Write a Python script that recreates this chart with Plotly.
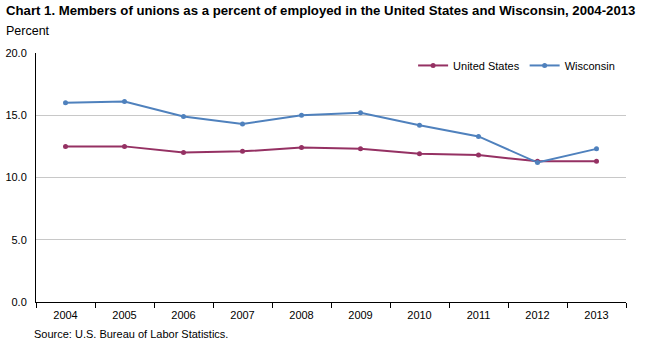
import plotly.graph_objects as go

years = ["2004", "2005", "2006", "2007", "2008", "2009", "2010", "2011", "2012", "2013"]
united_states = [12.5, 12.5, 12.0, 12.1, 12.4, 12.3, 11.9, 11.8, 11.3, 11.3]
wisconsin = [16.0, 16.1, 14.9, 14.3, 15.0, 15.2, 14.2, 13.3, 11.2, 12.3]
y_ticks = [0, 5, 10, 15, 20]

FONT = "Liberation Sans, Arial, sans-serif"

fig = go.Figure()
fig.add_trace(go.Scatter(x=years, y=united_states, name="United States", mode="lines+markers",
                         line=dict(color="#953163", width=2), marker=dict(size=5, color="#953163")))
fig.add_trace(go.Scatter(x=years, y=wisconsin, name="Wisconsin", mode="lines+markers",
                         line=dict(color="#4F81BD", width=2), marker=dict(size=5, color="#4F81BD")))

fig.update_layout(
    width=650, height=352,
    margin=dict(l=36, r=24, t=53, b=50),
    paper_bgcolor="white", plot_bgcolor="white",
    showlegend=True,
    legend=dict(orientation="h", x=0.99, xanchor="right", y=0.95, yanchor="middle",
                font=dict(family=FONT, size=11, color="black"), itemwidth=30,
                bgcolor="rgba(0,0,0,0)"),
    annotations=[
        dict(text="<b>Chart 1. Members of unions as a percent of employed in the United States and Wisconsin, 2004-2013</b>",
             xref="paper", yref="paper", x=-32/590, y=1 + 43/249, xanchor="left", yanchor="middle",
             showarrow=False, font=dict(family=FONT, size=13.2, color="black")),
        dict(text="Percent", xref="paper", yref="paper", x=-32/590, y=1 + 22/249,
             xanchor="left", yanchor="middle", showarrow=False,
             font=dict(family=FONT, size=12.5, color="black")),
        dict(text="Source: U.S. Bureau of Labor Statistics.", xref="paper", yref="paper",
             x=-4/590, y=-32/249, xanchor="left", yanchor="middle", showarrow=False,
             font=dict(family=FONT, size=11, color="black")),
    ],
)
fig.update_xaxes(type="category", tickson="boundaries", ticks="outside", ticklen=5,
                 tickcolor="black", showline=True, linecolor="black", linewidth=1,
                 showgrid=False, tickfont=dict(family=FONT, size=11, color="black"),
                 ticklabelstandoff=3, automargin=False, range=[-0.5, 9.5])
fig.update_yaxes(range=[0, 20], tickvals=y_ticks, tickformat=".1f", showline=True,
                 linecolor="black", linewidth=1, gridcolor="#C8C8C8", gridwidth=1,
                 zeroline=False, ticks="", ticklabelstandoff=6, automargin=False,
                 tickfont=dict(family=FONT, size=11, color="black"))

fig.write_html("out.html")
